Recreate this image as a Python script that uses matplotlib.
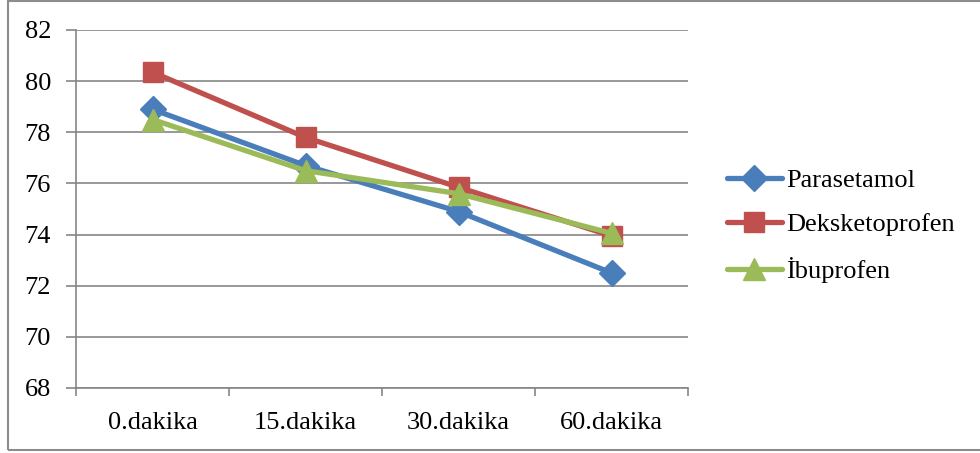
import matplotlib
matplotlib.use("Agg")
import matplotlib.pyplot as plt
from matplotlib.patches import Rectangle

categories = ["0.dakika", "15.dakika", "30.dakika", "60.dakika"]
parasetamol = [78.9, 76.7, 74.9, 72.5]
deksketoprofen = [80.35, 77.8, 75.85, 73.95]
ibuprofen = [78.5, 76.5, 75.6, 74.05]
series_names = ["Parasetamol", "Deksketoprofen", "İbuprofen"]
y_ticks = [68, 70, 72, 74, 76, 78, 80, 82]

plt.rcParams["font.family"] = ["Liberation Serif", "DejaVu Serif"]

W, H = 980, 453
fig = plt.figure(figsize=(W / 100, H / 100), dpi=100)
ax = fig.add_axes([76 / W, 1 - 388 / H, (688 - 76) / W, (388 - 30) / H])

# outer chart border
fig.patches.append(Rectangle((8 / W, 1 - 450 / H), 1.2, (450 - 1) / H,
                             transform=fig.transFigure, fill=False,
                             edgecolor="#8c8c8c", linewidth=1.5))

x = [0.5, 1.5, 2.5, 3.5]
styles = [
    (parasetamol, "#4a7ebb", "D", 13),
    (deksketoprofen, "#c0504d", "s", 14.5),
    (ibuprofen, "#9bbb59", "^", 15.5),
]
for (vals, color, marker, ms), name in zip(styles, series_names):
    ax.plot(x, vals, color=color, linewidth=3.8, marker=marker,
            markersize=ms, markeredgecolor=color, markerfacecolor=color,
            label=name, solid_capstyle="round", zorder=3)

ax.set_xlim(0, 4)
ax.set_ylim(68, 82)
ax.set_yticks(y_ticks)
ax.set_yticklabels([str(v) for v in y_ticks], fontsize=19)
ax.set_xticks(x)
ax.set_xticklabels(categories, fontsize=19)
ax.set_xticks([0, 1, 2, 3, 4], minor=True)
ax.tick_params(axis="x", which="major", length=0, pad=17)
ax.tick_params(axis="x", which="minor", length=6, color="#868686", width=1.2, direction="out")
ax.tick_params(axis="y", length=7, color="#868686", width=1.2, direction="out", pad=11)
ax.grid(axis="y", color="#868686", linewidth=1.2, zorder=0)
for side in ["top", "right"]:
    ax.spines[side].set_visible(False)
for side in ["left", "bottom"]:
    ax.spines[side].set_color("#868686")
    ax.spines[side].set_linewidth(1.2)

leg = fig.legend(loc="center left", bbox_to_anchor=(703 / W, 1 - 226 / H),
                 frameon=False, fontsize=19, handlelength=2.1,
                 handletextpad=0.15, labelspacing=0.78)

fig.savefig("out.png", dpi=100)
